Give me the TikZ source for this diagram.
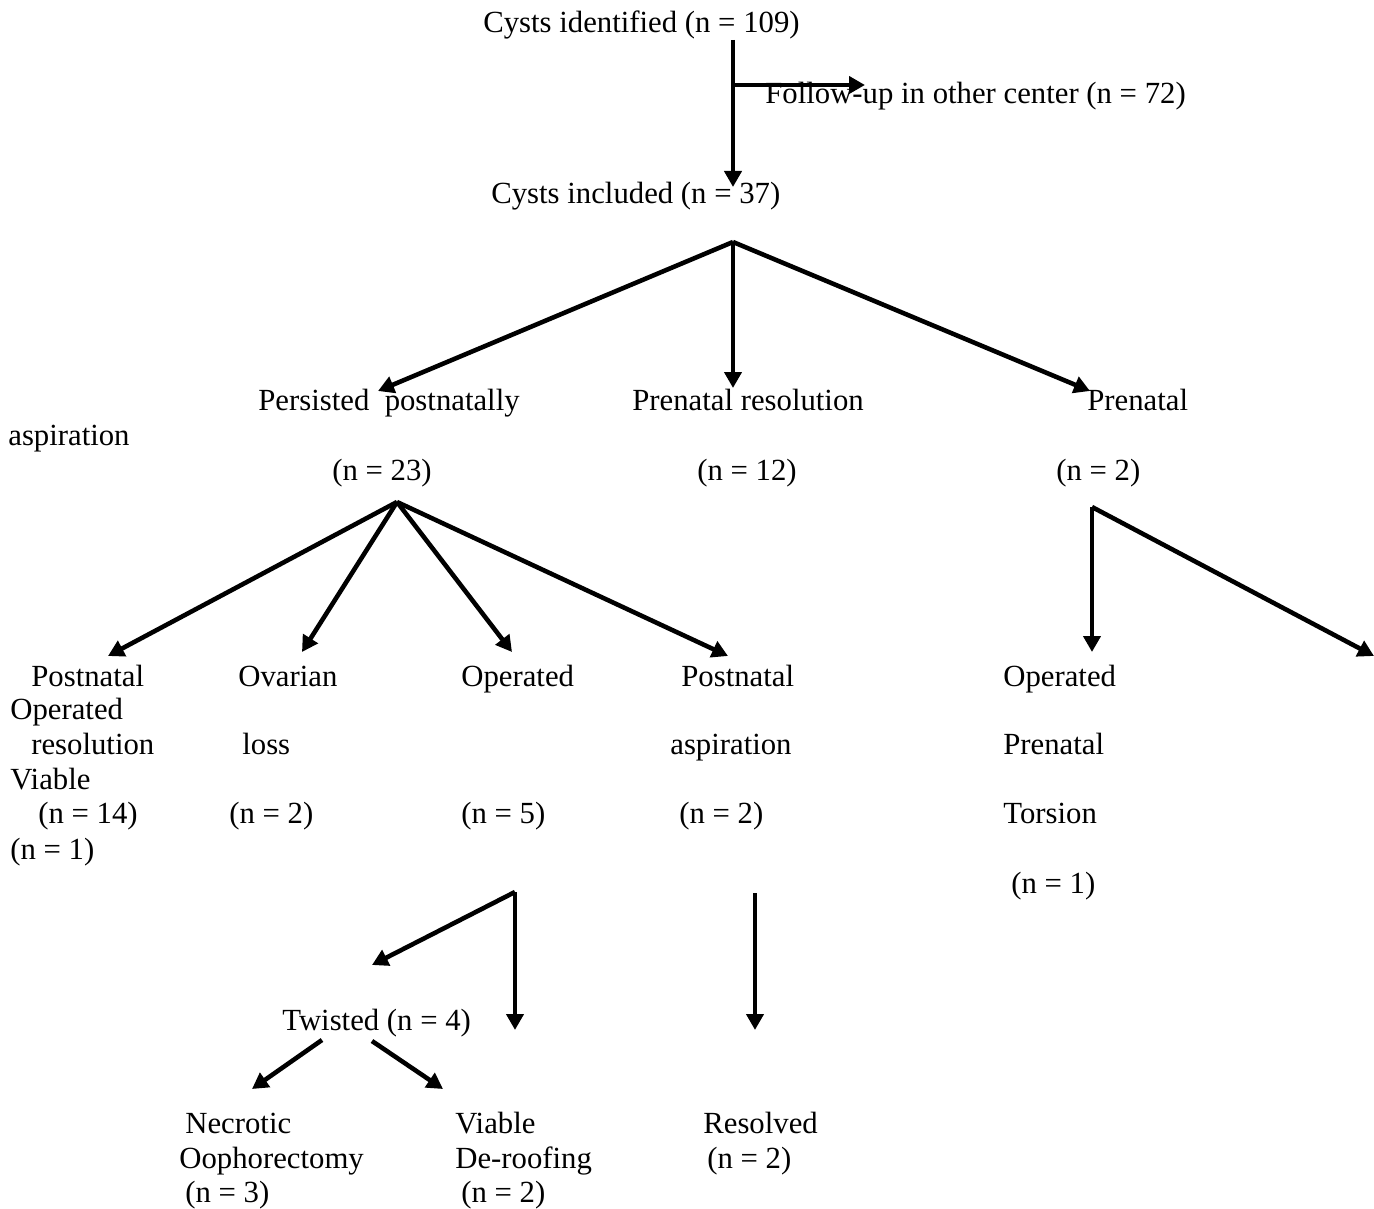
\documentclass[tikz,border=0pt]{standalone}
\usepackage{fontspec}
\setmainfont{Liberation Serif}
\usetikzlibrary{arrows.meta}

\tikzset{
  lbl/.style={anchor=base west, inner sep=0pt},
  arr/.style={line width=2.6pt, -{Triangle[length=0.32cm, width=0.34cm]}}
}

\begin{document}
\begin{tikzpicture}[x=0.02cm, y=-0.02cm, font=\fontsize{17.5}{20}\selectfont]
\useasboundingbox (0,0) rectangle (1374,1209);

\node[lbl] (identified) at (483,33) {Cysts identified (n = 109)};
\node[lbl] (followup) at (765,104) {Follow-up in other center (n = 72)};
\node[lbl] (included) at (491,204) {Cysts included (n = 37)};

\node[lbl] (persisted) at (258,411) {Persisted\ \ postnatally};
\node[lbl] (prenatres) at (632,411) {Prenatal resolution};
\node[lbl] (prenatasp) at (1087,411) {Prenatal};
\node[lbl] (aspirationA) at (8,446) {aspiration};
\node[lbl] (n23) at (332,481) {(n = 23)};
\node[lbl] (n12) at (697,481) {(n = 12)};
\node[lbl] (n2a) at (1056,481) {(n = 2)};

\node[lbl] (postres1) at (31,686) {Postnatal};
\node[lbl] (ovarian1) at (238,686) {Ovarian};
\node[lbl] (operated1) at (461,686) {Operated};
\node[lbl] (postasp1) at (681,686) {Postnatal};
\node[lbl] (opright1) at (1003,686) {Operated};
\node[lbl] (opviable1) at (10,720) {Operated};
\node[lbl] (postres2) at (31,755) {resolution};
\node[lbl] (ovarian2) at (242,755) {loss};
\node[lbl] (postasp2) at (670,755) {aspiration};
\node[lbl] (opright2) at (1003,755) {Prenatal};
\node[lbl] (opviable2) at (10,789) {Viable};
\node[lbl] (n14) at (38,824) {(n = 14)};
\node[lbl] (n2b) at (229,824) {(n = 2)};
\node[lbl] (n5) at (461,824) {(n = 5)};
\node[lbl] (n2c) at (679,824) {(n = 2)};
\node[lbl] (opright3) at (1003,824) {Torsion};
\node[lbl] (n1a) at (10,859) {(n = 1)};
\node[lbl] (n1b) at (1011,893) {(n = 1)};

\node[lbl] (twisted) at (282,1030) {Twisted (n = 4)};
\node[lbl] (necrotic1) at (185,1133) {Necrotic};
\node[lbl] (necrotic2) at (179,1168) {Oophorectomy};
\node[lbl] (necrotic3) at (185,1202) {(n = 3)};
\node[lbl] (viable1) at (455,1133) {Viable};
\node[lbl] (viable2) at (455,1168) {De-roofing};
\node[lbl] (viable3) at (461,1202) {(n = 2)};
\node[lbl] (resolved1) at (703,1133) {Resolved};
\node[lbl] (resolved2) at (707,1168) {(n = 2)};

% branch points and arrow ends
\coordinate (stem) at (733,40);
\coordinate (fork) at (733,85);
\coordinate (stemend) at (733,187);
\coordinate (followend) at (865,85);
\coordinate (split1) at (733,242);
\coordinate (persend) at (378,391);
\coordinate (resend) at (733,388);
\coordinate (aspend) at (1090,391);
\coordinate (split2) at (397,502);
\coordinate (postresend) at (108,656);
\coordinate (ovarend) at (302,652);
\coordinate (operend) at (512,652);
\coordinate (postaspend) at (728,656);
\coordinate (split3) at (1092,507);
\coordinate (opend) at (1092,652);
\coordinate (viaend) at (1374,656);
\coordinate (split4) at (515,892);
\coordinate (twistend) at (372,965);
\coordinate (derooftop) at (515,1030);
\coordinate (split5) at (755,893);
\coordinate (resolvend) at (755,1030);
\coordinate (twl) at (322,1040);
\coordinate (twr) at (372,1041);
\coordinate (necend) at (252,1089);
\coordinate (viaend2) at (443,1089);

\draw[arr] (stem) -- (stemend);
\draw[arr] (fork) -- (followend);

\draw[arr] (split1) -- (persend);
\draw[arr] (split1) -- (resend);
\draw[arr] (split1) -- (aspend);

\draw[arr] (split2) -- (postresend);
\draw[arr] (split2) -- (ovarend);
\draw[arr] (split2) -- (operend);
\draw[arr] (split2) -- (postaspend);

\draw[arr] (split3) -- (opend);
\draw[arr] (split3) -- (viaend);

\draw[arr] (split4) -- (twistend);
\draw[arr] (split4) -- (derooftop);
\draw[arr] (split5) -- (resolvend);

\draw[arr] (twl) -- (necend);
\draw[arr] (twr) -- (viaend2);
\end{tikzpicture}
\end{document}
